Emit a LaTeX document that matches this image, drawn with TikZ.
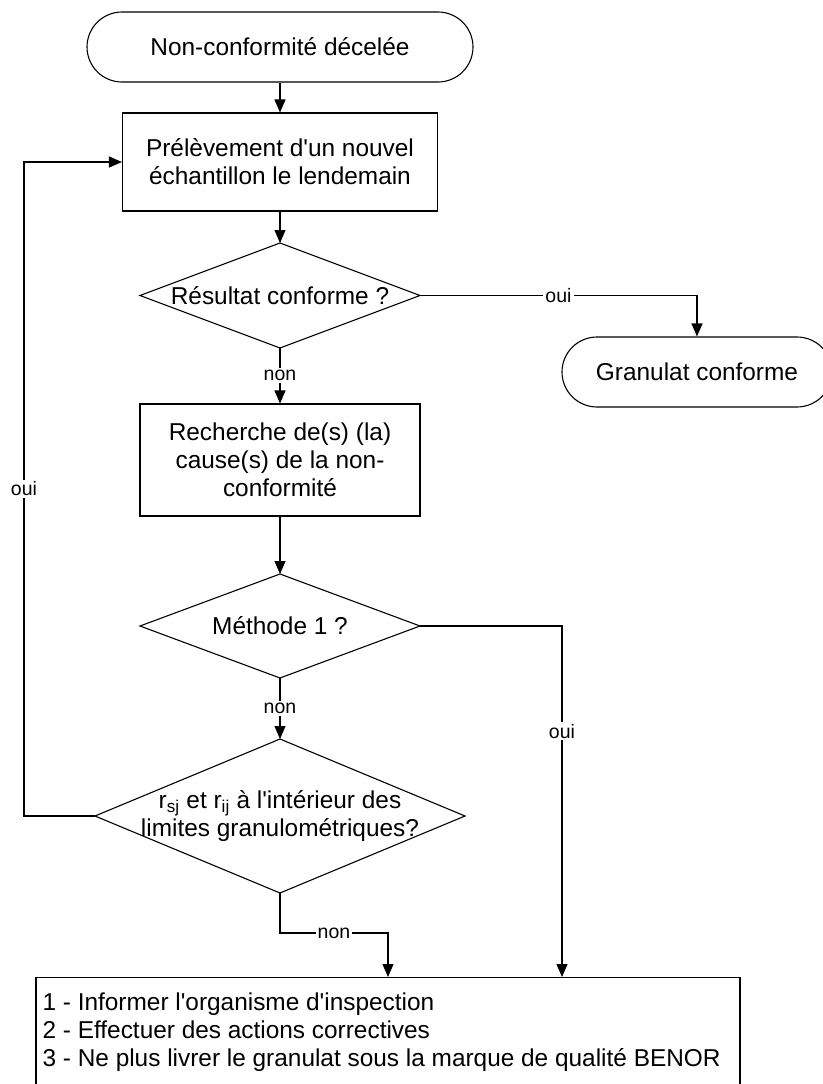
\documentclass[tikz,border=0pt]{standalone}
\usepackage{fontspec}
\setmainfont{Liberation Sans}[Ligatures=TeXOff]
\usetikzlibrary{arrows.meta,shapes.geometric}

\begin{document}
\begin{tikzpicture}[x=1pt, y=-1pt, line width=1.1pt,
    txt/.style={font=\fontsize{24.4}{28}\selectfont, align=center},
    terminal/.style={draw, txt, rounded corners=35pt, minimum height=70pt, inner sep=0pt},
    process/.style={draw, txt, inner sep=0pt},
    decision/.style={draw, diamond, inner sep=0pt, outer sep=0pt},
    lbl/.style={fill=white, inner sep=2pt, font=\fontsize{19.5}{22}\selectfont},
    arr/.style={-{Triangle[length=13pt, width=11pt]}}]
    \useasboundingbox (0,0) rectangle (822,1084);

    % Define blocks
    \node[terminal, minimum width=386pt] (start) at (280,47) {Non-conformité décelée};
    \node[process, minimum width=315pt, minimum height=98pt] (sample) at (280,162) {Prélèvement d'un nouvel\\échantillon le lendemain};
    \node[decision, minimum width=280pt, minimum height=105pt] (resultq) at (280,295.5) {};
    \node[txt] (resultt) at (resultq) {Résultat conforme ?};
    \node[terminal, minimum width=270pt] (ok) at (697,372) {Granulat conforme};
    \node[process, minimum width=280pt, minimum height=112pt] (search) at (280,460) {Recherche de(s) (la)\\cause(s) de la non-\\conformité};
    \node[decision, minimum width=280pt, minimum height=104pt] (methodq) at (280,626) {};
    \node[txt] (methodt) at (methodq) {Méthode 1 ?};
    \node[decision, minimum width=370pt, minimum height=154pt] (limitq) at (280,816) {};
    \node[txt] (limitt) at (limitq) {r\textsubscript{sj} et r\textsubscript{ij} à l'intérieur des\\limites granulométriques?};
    \node[process, anchor=north, minimum width=704pt, minimum height=115pt] (actions) at (388,977) {};
    \node[txt, align=left, anchor=north west, inner sep=0pt] (actionst) at (42,992)
        {1 - Informer l'organisme d'inspection\\2 - Effectuer des actions correctives\\3 - Ne plus livrer le granulat sous la marque de qualité BENOR};

    % Draw connectors
    \draw[arr] (start) -- (sample);
    \draw[arr] (sample) -- (resultq);
    \draw[arr] (resultq.east) -| node[lbl, pos=0.25] {oui} (ok);
    \draw[arr] (resultq) -- node[lbl] {non} (search);
    \draw[arr] (search) -- (methodq);
    \draw[arr] (methodq.east) -| node[lbl, pos=0.65] {oui} ([xshift=174pt]actions.north);
    \draw[arr] (methodq) -- node[lbl] {non} (limitq);
    \draw[arr] (limitq.west) -- ++(-71,0) |- node[lbl, pos=0.25] {oui} (sample);
    \draw[arr] (limitq.south) -- ++(0,40) -| node[lbl, pos=0.25] {non} (actions);
\end{tikzpicture}
\end{document}
